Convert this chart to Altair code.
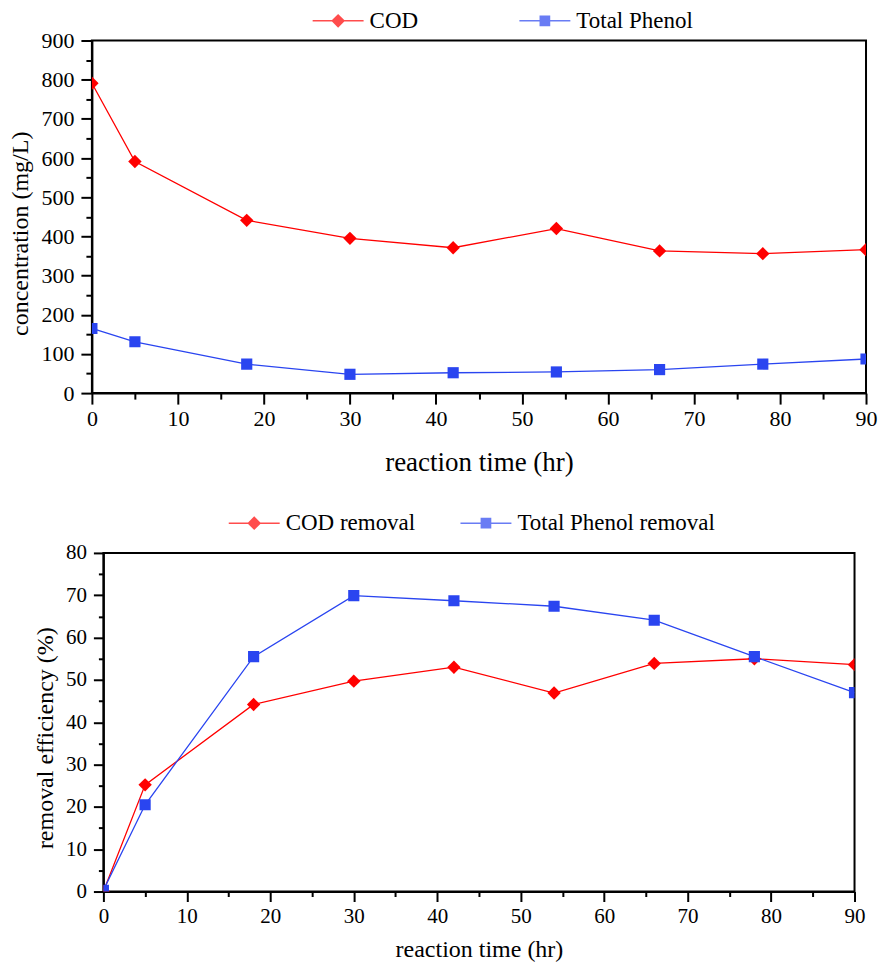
import altair as alt
import pandas as pd

# ---------------- data ----------------
time = [0, 5, 18, 30, 42, 54, 66, 78, 90]
cod = [791, 591, 441, 395, 371, 420, 363, 356, 366]
phenol = [165, 131, 74, 48, 52, 54, 60, 74, 87]
cod_removal = [0, 25.2, 44.2, 49.7, 53.0, 46.9, 53.9, 55.0, 53.6]
phenol_removal = [0.3, 20.5, 55.5, 69.9, 68.7, 67.4, 64.1, 55.5, 47.0]

top_series = ["COD", "Total Phenol"]
bottom_series = ["COD removal", "Total Phenol removal"]
x_ticks = list(range(0, 91, 5))
top_y_ticks = list(range(0, 901, 50))
bottom_y_ticks = list(range(0, 81, 5))

RED = "#ff0000"
BLUE = "#2a45f0"
FONT = "Liberation Serif, Times New Roman, serif"

DIAMOND_LEG = "M-1,-0.028H1V0.028H-1Z M0,-0.27L0.27,0L0,0.27L-0.27,0Z"
SQUARE_LEG = "M-1,-0.028H1V0.028H-1Z M-0.21,-0.21H0.21V0.21H-0.21Z"


def to_long(a, b, names):
    rows = []
    for t, v in zip(time, a):
        rows.append({"t": t, "v": v, "series": names[0]})
    for t, v in zip(time, b):
        rows.append({"t": t, "v": v, "series": names[1]})
    return pd.DataFrame(rows)


def panel(df, names, ymax, yticks, ymajor, ytitle, w, h, xlab_size, ylab_size,
          xtitle_size, ytitle_size, ytitle_x, ytitle_y, xtitle_y, leg_x, leg_y,
          col_pad, leg_size, major, minor):
    first = alt.datum.series == names[0]
    x = alt.X(
        "t:Q",
        scale=alt.Scale(domain=[0, 90], nice=False),
        axis=alt.Axis(
            values=x_ticks,
            labelExpr="datum.value % 10 == 0 ? datum.label : ''",
            tickSize={"condition": {"test": "datum.value % 10 == 0", "value": major}, "value": minor},
            labelFlush=False,
            labelOverlap=False,
            labelFontSize=xlab_size,
            labelPadding=4,
            title="reaction time (hr)",
            titleFontSize=xtitle_size,
            titleX=w / 2,
            titleY=xtitle_y,
            titleAlign="center",
            titleBaseline="middle",
        ),
    )
    y = alt.Y(
        "v:Q",
        scale=alt.Scale(domain=[0, ymax], nice=False),
        axis=alt.Axis(
            values=yticks,
            labelExpr=f"datum.value % {ymajor} == 0 ? datum.label : ''",
            tickSize={"condition": {"test": f"datum.value % {ymajor} == 0", "value": major}, "value": minor},
            labelOverlap=False,
            labelFlush=False,
            labelFontSize=ylab_size,
            labelPadding=7,
            title=ytitle,
            titleFontSize=ytitle_size,
            titleAngle=270,
            titleX=ytitle_x,
            titleY=ytitle_y,
            titleAlign="center",
            titleBaseline="middle",
        ),
    )
    color_cond = alt.condition(first, alt.value(RED), alt.value(BLUE))
    base = alt.Chart(df)
    lines = base.mark_line(strokeWidth=1.3, clip=True).encode(
        x=x, y=y, detail="series:N", color=color_cond
    )
    points = base.mark_point(filled=True, opacity=1, clip=True).encode(
        x=x,
        y=y,
        color=color_cond,
        shape=alt.condition(first, alt.value("diamond"), alt.value("square")),
        size=alt.condition(first, alt.value(180), alt.value(125)),
    )
    leg = dict(
        title=None,
        orient="none",
        legendX=leg_x,
        legendY=leg_y,
        direction="horizontal",
        symbolSize=2601,
        symbolStrokeWidth=0,
        labelFont=FONT,
        labelFontSize=leg_size,
        labelColor="black",
        labelOffset=6,
        labelLimit=400,
        columnPadding=col_pad,
    )
    legend_layer = base.mark_point(filled=True).encode(
        x=x,
        y=y,
        shape=alt.Shape("series:N", scale=alt.Scale(domain=names, range=[DIAMOND_LEG, SQUARE_LEG]),
                        legend=alt.Legend(**leg)),
        color=alt.Color("series:N", scale=alt.Scale(domain=names, range=[RED, BLUE]),
                        legend=alt.Legend(**leg)),
    ).transform_filter("datum.t < 0")
    return alt.layer(lines, points, legend_layer).properties(width=w, height=h)


top = panel(to_long(cod, phenol, top_series), top_series, 900, top_y_ticks, 100,
            "concentration (mg/L)", 775, 353, 22, 22, 27, 24,
            -71, 193, 69, 221, -45.5, 101, 23, 11, 6)
bottom = panel(to_long(cod_removal, phenol_removal, bottom_series), bottom_series, 80,
               bottom_y_ticks, 10, "removal efficiency (%)", 752, 339, 21, 21, 24, 24,
               -58, 185, 58, 125.5, -55.5, 45, 23, 10, 5)

chart = (
    alt.vconcat(top, bottom, spacing=160, center=True, bounds="flush")
    .resolve_scale(color="independent", shape="independent")
    .properties(padding={"left": 0, "top": -15, "right": 0, "bottom": 0})
    .configure_view(stroke="black", strokeWidth=2)
    .configure_axis(
        labelFont=FONT,
        titleFont=FONT,
        titleFontWeight="normal",
        labelColor="black",
        titleColor="black",
        domainColor="black",
        domainWidth=2,
        tickColor="black",
        tickWidth=2,
        grid=False,
    )
)

chart.save("out.html", embed_options={"renderer": "svg", "actions": False})
